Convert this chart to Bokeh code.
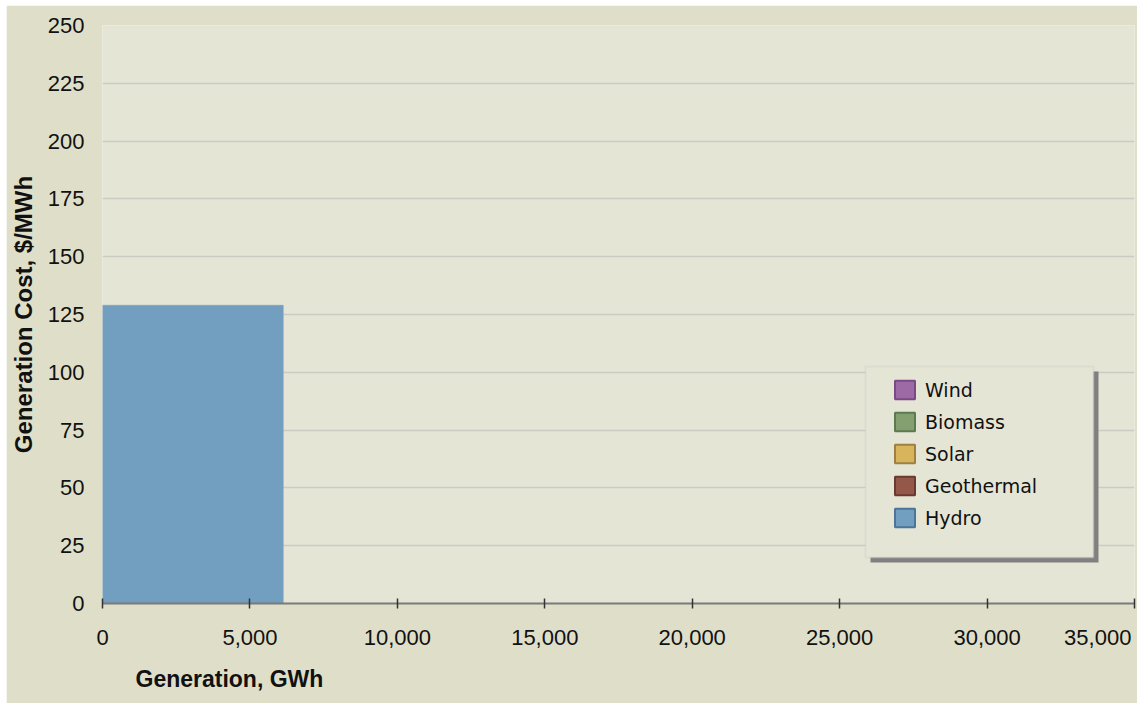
import numpy as np
from bokeh.plotting import figure
from bokeh.models import (ColumnDataSource, Range1d, FixedTicker, Legend, LegendItem,
                          BoxAnnotation, Title, NumeralTickFormatter)
from bokeh.embed import file_html
from bokeh.resources import INLINE

# Supply-curve blocks, in dispatch order (left to right)
sources = ["Hydro", "Geothermal", "Solar", "Biomass", "Wind"]
generation_gwh = [6130, 0, 0, 0, 0]
cost_per_mwh = [129, 0, 0, 0, 0]
fill_colors = ["#729ebf", "#94584a", "#d8b45c", "#84a070", "#9e6aa6"]
edge_colors = ["#4d7499", "#6a3a30", "#a08040", "#5c7a50", "#7a4a86"]

# Legend order, top to bottom
legend_order = ["Wind", "Biomass", "Solar", "Geothermal", "Hydro"]

x_ticks = [0, 5000, 10000, 15000, 20000, 25000, 30000, 35000]
y_ticks = [0, 25, 50, 75, 100, 125, 150, 175, 200, 225, 250]

FONT = "Liberation Sans"
OUTER_BG = "#dfdfc9"
INNER_BG = "#e5e5d6"

gen = np.array(generation_gwh, dtype=float)
right_edges = np.cumsum(gen)
left_edges = right_edges - gen

p = figure(width=1131, height=698, output_backend="svg", toolbar_location=None,
           x_range=Range1d(x_ticks[0], x_ticks[-1]),
           y_range=Range1d(y_ticks[0], y_ticks[-1]),
           min_border_left=96, min_border_right=3, min_border_top=20,
           min_border_bottom=100)
p.margin = (5, 3, 0, 6)
p.background_fill_color = INNER_BG
p.border_fill_color = OUTER_BG
p.outline_line_color = None

# Grid
p.xgrid.grid_line_color = None
p.ygrid.ticker = FixedTicker(ticks=y_ticks)
p.ygrid.grid_line_color = "#cbcbc2"
p.ygrid.grid_line_width = 1.5

# Y axis
ya = p.yaxis[0]
ya.ticker = FixedTicker(ticks=y_ticks)
ya.axis_line_color = None
ya.major_tick_line_color = None
ya.minor_tick_line_color = None
ya.major_tick_out = 0
ya.major_tick_in = 0
ya.major_label_standoff = 18
ya.major_label_text_font = FONT
ya.major_label_text_font_size = "22px"
ya.major_label_text_color = "#111111"
ya.axis_label = "Generation Cost, $/MWh"
ya.axis_label_text_font = FONT
ya.axis_label_text_font_size = "24px"
ya.axis_label_text_font_style = "bold"
ya.axis_label_text_color = "#111111"
ya.axis_label_standoff = 8

# X axis; a little right padding on the last label
xa = p.xaxis[0]
xa.ticker = FixedTicker(ticks=x_ticks)
xa.formatter = NumeralTickFormatter(format="0,0")
xa.major_label_overrides = {x_ticks[-1]: f"{x_ticks[-1]:,}" + "\u00a0"}
xa.axis_line_color = "#7a7a7a"
xa.axis_line_width = 2
xa.major_tick_line_color = "#333333"
xa.major_tick_line_width = 1.5
xa.major_tick_in = 5
xa.major_tick_out = 5
xa.minor_tick_line_color = None
xa.major_label_standoff = 16
xa.major_label_text_font = FONT
xa.major_label_text_font_size = "22px"
xa.major_label_text_color = "#111111"

# x axis title, left aligned under the axis
p.add_layout(Title(text="Generation, GWh", align="left", offset=33, standoff=23,
                   text_font=FONT, text_font_size="23px", text_font_style="bold",
                   text_color="#111111"), "below")

# Blocks and legend keys
renderers = {}
nan = float("nan")
for name, l, r, c, fc, ec in zip(sources, left_edges, right_edges, cost_per_mwh,
                                 fill_colors, edge_colors):
    keep = r > l
    src = ColumnDataSource(dict(left=[l] if keep else [], right=[r] if keep else [],
                                top=[c] if keep else [], bottom=[0] if keep else []))
    bar = p.quad(left="left", right="right", top="top", bottom="bottom", source=src,
                 fill_color=fc, line_color=fc, line_width=0.5)
    key = p.quad(left=[nan], right=[nan], top=[nan], bottom=[nan], fill_color=fc,
                 line_color=ec, line_width=2)
    renderers[name] = bar, key

# Legend frame with drop shadow
p.add_layout(BoxAnnotation(left=768, right=996, top=232, bottom=41,
                           left_units="screen", right_units="screen",
                           top_units="screen", bottom_units="screen",
                           fill_color="#808080", fill_alpha=1, line_color=None))
p.add_layout(BoxAnnotation(left=763, right=991, top=237, bottom=46,
                           left_units="screen", right_units="screen",
                           top_units="screen", bottom_units="screen",
                           fill_color=INNER_BG, fill_alpha=1,
                           line_color="#c4c4c4", line_width=2))

legend = Legend(items=[LegendItem(label=n, renderers=[renderers[n][1]]) for n in legend_order],
                location=(790, 74), orientation="vertical",
                glyph_width=25, glyph_height=23, label_height=23,
                spacing=9, padding=0, margin=0, label_standoff=8,
                label_text_font="DejaVu Sans", label_text_font_size="19px",
                label_text_color="#111111",
                background_fill_alpha=0, border_line_alpha=0)
p.add_layout(legend)

open("out.html", "w").write(file_html(p, INLINE))
